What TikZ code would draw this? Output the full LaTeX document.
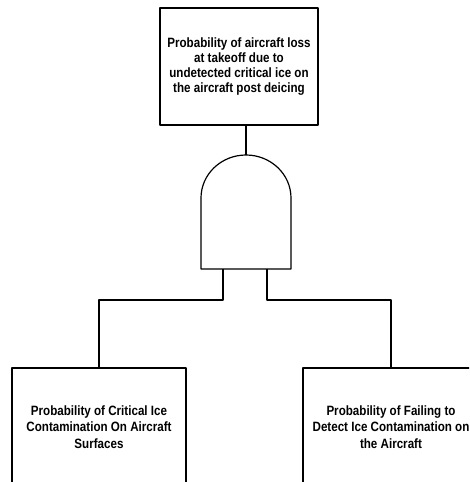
\documentclass[tikz,border=0pt]{standalone}
\usepackage{fontspec}
\setmainfont{Liberation Sans}[FakeStretch=0.86]
\usetikzlibrary{positioning,calc}
\newcommand \mydrawgate[4]
{
\coordinate (gtop) at (#1,#3);
\coordinate (gl) at ($(gtop)+(-#2,#4)$);
\coordinate (gr) at ($(gtop)+(#2,#4)$);
\coordinate (gbl) at ($(gl)+(0,71)$);
\coordinate (gbr) at ($(gr)+(0,71)$);
\draw (gbl)--(gl) .. controls ($(gl)+(0,-0.552*#4)$) and ($(gtop)+(-0.552*#2,0)$) .. (gtop)
      .. controls ($(gtop)+(0.552*#2,0)$) and ($(gr)+(0,-0.552*#4)$) .. (gr)--(gbr)--cycle;
}

\begin{document}
\begin{tikzpicture}[x=1pt,y=-1pt, line join=round, line width=1.2pt,
  box/.style={draw, align=center, inner sep=0pt, font=\fontsize{13.5}{#1}\selectfont\bfseries}]
\useasboundingbox (0,0) rectangle (469,482);
\clip (0,0) rectangle (469,482);
\node[box=15, minimum width=158, minimum height=117] (top) at (239,66.5)
  {Probability of aircraft loss\\at takeoff due to\\undetected critical ice on\\the aircraft post deicing};
\mydrawgate{246}{45}{155}{43}
\coordinate (inl) at ($(gbl)!0.244!(gbr)$);
\coordinate (inr) at ($(gbl)!0.733!(gbr)$);
\node[box=16.5, minimum width=174, minimum height=118] (ice) at (99,427)
  {Probability of Critical Ice\\Contamination On Aircraft\\Surfaces};
\node[box=16.5, minimum width=176, minimum height=118] (detect) at (391,427)
  {Probability of Failing to\\Detect Ice Contamination on\\the Aircraft};
\draw (top.south -| gtop)--(gtop);
\draw (inl)--++(0,31) -| (ice.north);
\draw (inr)--++(0,31) -| (detect.north);
\end{tikzpicture}
\end{document}
